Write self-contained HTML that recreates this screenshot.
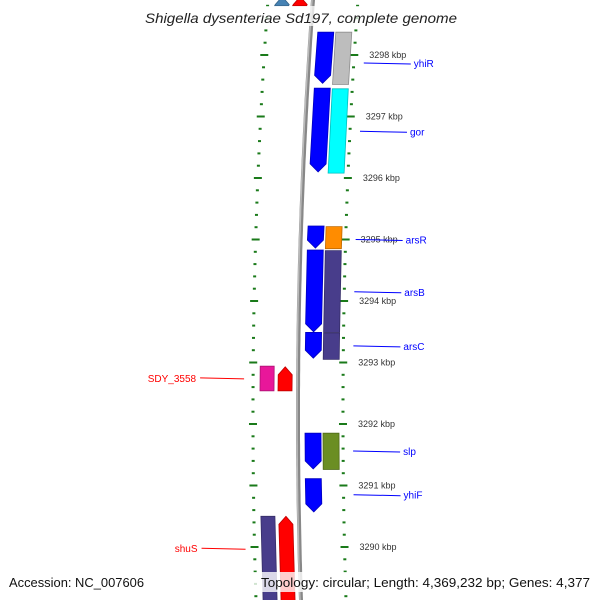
<!DOCTYPE html>
<html><head><meta charset="utf-8"><style>
body{margin:0;background:#fff;overflow:hidden;}
svg{display:block;font-family:"Liberation Sans",sans-serif;}
</style></head><body>
<svg id="map" width="600" height="600" viewBox="0 0 600 600"></svg>
<script>
const tickKbp=[3289,3290,3291,3292,3293,3294,3295,3296,3297,3298,3299];
const tickLabels=["","3290 kbp","3291 kbp","3292 kbp","3293 kbp","3294 kbp","3295 kbp","3296 kbp","3297 kbp","3298 kbp",""];
const geneNames=["top-a","top-b","yhiR","yhiR-cog","gor","gor-cog","arsR","arsR-cog","arsB","arsB-cog","arsC","arsC-cog","SDY_3558-cog","SDY_3558","slp","slp-cog","yhiF","shuS-cog","shuS"];
const geneStart=[3298.95,3298.95,3298.37,3298.37,3297.46,3297.45,3295.22,3295.21,3294.83,3294.82,3293.49,3293.48,3292.94,3292.93,3291.85,3291.85,3291.11,3290.50,3290.50];
const geneEnd  =[3298.8,3298.8,3297.54,3297.52,3296.10,3296.08,3294.86,3294.85,3293.50,3293.49,3293.07,3293.05,3292.54,3292.54,3291.27,3291.26,3290.57,3289.0,3289.0];
const geneStrand=[-1,-1,1,0,1,0,1,0,1,0,1,0,0,-1,1,0,1,0,-1];
const geneTrack=["L1","L2","R1","R2","R1","R2","R1","R2","R1","R2","R1","R2","L1","L2","R1","R2","R1","L1","L2"];
const geneColor=["#4682b4","#ff0000","#0000ff","#bdbdbd","#0000ff","#00ffff","#0000ff","#ff8c00","#0000ff","#483d8b","#0000ff","#483d8b","#e8179a","#ff0000","#0000ff","#6b8e23","#0000ff","#483d8b","#ff0000"];
const labelText=["yhiR","gor","arsR","arsB","arsC","slp","yhiF","SDY_3558","shuS"];
const labelKbp=[3297.87,3296.76,3295.0,3294.15,3293.27,3291.56,3290.85,3292.75,3289.98];
const labelSide=[1,1,1,1,1,1,1,-1,-1];

const svg=document.getElementById('map');
const NS='http://www.w3.org/2000/svg';
const yOf=k=>55+(3298-k)*61.5;
const fx=y=>313-0.0725*y+0.0000875*y*y;
const trackOff={R1:[7,23],R2:[25,41],L1:[-38,-24],L2:[-20,-6]};
function mk(t,a,p){const e=document.createElementNS(NS,t);for(const k in a)e.setAttribute(k,a[k]);(p||svg).appendChild(e);return e;}
function shade(c,f){const n=parseInt(c.slice(1),16);let r=n>>16,g=(n>>8)&255,b=n&255;r=Math.round(r*f);g=Math.round(g*f);b=Math.round(b*f);return `rgb(${r},${g},${b})`;}

let d='';for(let y=-5;y<=605;y+=5){d+=(y==-5?'M':'L')+(fx(y)).toFixed(1)+','+y+' ';}
const bb=mk('path',{d:d,stroke:'#888',fill:'none','stroke-width':4});

mk('path',{d:d,stroke:'#bbb',fill:'none','stroke-width':1.5,transform:'translate(-1,0)'});

const ticks=mk('g',{});

for(let i=0;i<tickKbp.length;i++){
  for(let m=0;m<5;m++){
    const k=tickKbp[i]+m*0.2;const y=yOf(k);if(y<-5||y>605)continue;
    const x=fx(y);const major=m===0;const w=major?8:3;
    mk('rect',{x:x-45-w/2,y:y-1,width:w,height:2,fill:'#1a7a1a'},ticks);
    mk('rect',{x:x+45-w/2,y:y-1,width:w,height:2,fill:'#1a7a1a'},ticks);
    if(major&&tickLabels[i]){
      const t=mk('text',{x:x+60,y:y+3,'font-size':9,fill:'#333'},ticks);t.textContent=tickLabels[i];
      
    }
  }
}

for(let i=0;i<geneNames.length;i++){
  const y0=yOf(geneStart[i]),y1=yOf(geneEnd[i]);
  const o=trackOff[geneTrack[i]];
  const xa0=fx(y0)+o[0],xb0=fx(y0)+o[1],xa1=fx(y1)+o[0],xb1=fx(y1)+o[1];
  const mid0=(xa0+xb0)/2,mid1=(xa1+xb1)/2;const ah=8;let pts;
  if(geneStrand[i]===1) pts=[[xa0,y0],[xb0,y0],[xb1,y1-ah],[mid1,y1],[xa1,y1-ah]];
  else if(geneStrand[i]===-1) pts=[[mid0,y0],[xb0,y0+ah],[xb1,y1],[xa1,y1],[xa0,y0+ah]];
  else pts=[[xa0,y0],[xb0,y0],[xb1,y1],[xa1,y1]];
  const g=mk('g',{});
  
  
  mk('polygon',{points:pts.map(p=>p[0].toFixed(1)+','+p[1].toFixed(1)).join(' '),fill:geneColor[i],stroke:shade(geneColor[i],0.75),'stroke-width':0.8},g);
}

for(let i=0;i<labelText.length;i++){
  const y=yOf(labelKbp[i]);const x=fx(y);const g=mk('g',{});
  
  
  if(labelSide[i]===1){
    mk('line',{x1:x+55,y1:y,x2:x+102,y2:y+1,stroke:'#0000ff','stroke-width':1},g);
    const t=mk('text',{x:x+105,y:y+4,'font-size':10,fill:'#0000ff'},g);t.textContent=labelText[i];
  }else{
    mk('line',{x1:x-54,y1:y+1,x2:x-98,y2:y,stroke:'#ff0000','stroke-width':1},g);
    const t=mk('text',{x:x-102,y:y+4,'font-size':10,fill:'#ff0000','text-anchor':'end'},g);t.textContent=labelText[i];
  }
}

mk('rect',{x:140,y:6,width:322,height:20,fill:'#fff',opacity:0.75});
const tt=mk('text',{x:145,y:23,'font-size':14,'font-style':'italic',fill:'#222',textLength:312,lengthAdjust:'spacingAndGlyphs'});
tt.textContent='Shigella dysenteriae Sd197, complete genome';

mk('rect',{x:0,y:572,width:600,height:20,fill:'#fff',opacity:0.8});
const a=mk('text',{x:9,y:587,'font-size':13,fill:'#111',textLength:135,lengthAdjust:'spacingAndGlyphs'});a.textContent='Accession: NC_007606';

const tp=mk('text',{x:261,y:587,'font-size':13,fill:'#111',textLength:329,lengthAdjust:'spacingAndGlyphs'});
tp.textContent='Topology: circular; Length: 4,369,232 bp; Genes: 4,377';

</script>
</body></html>
